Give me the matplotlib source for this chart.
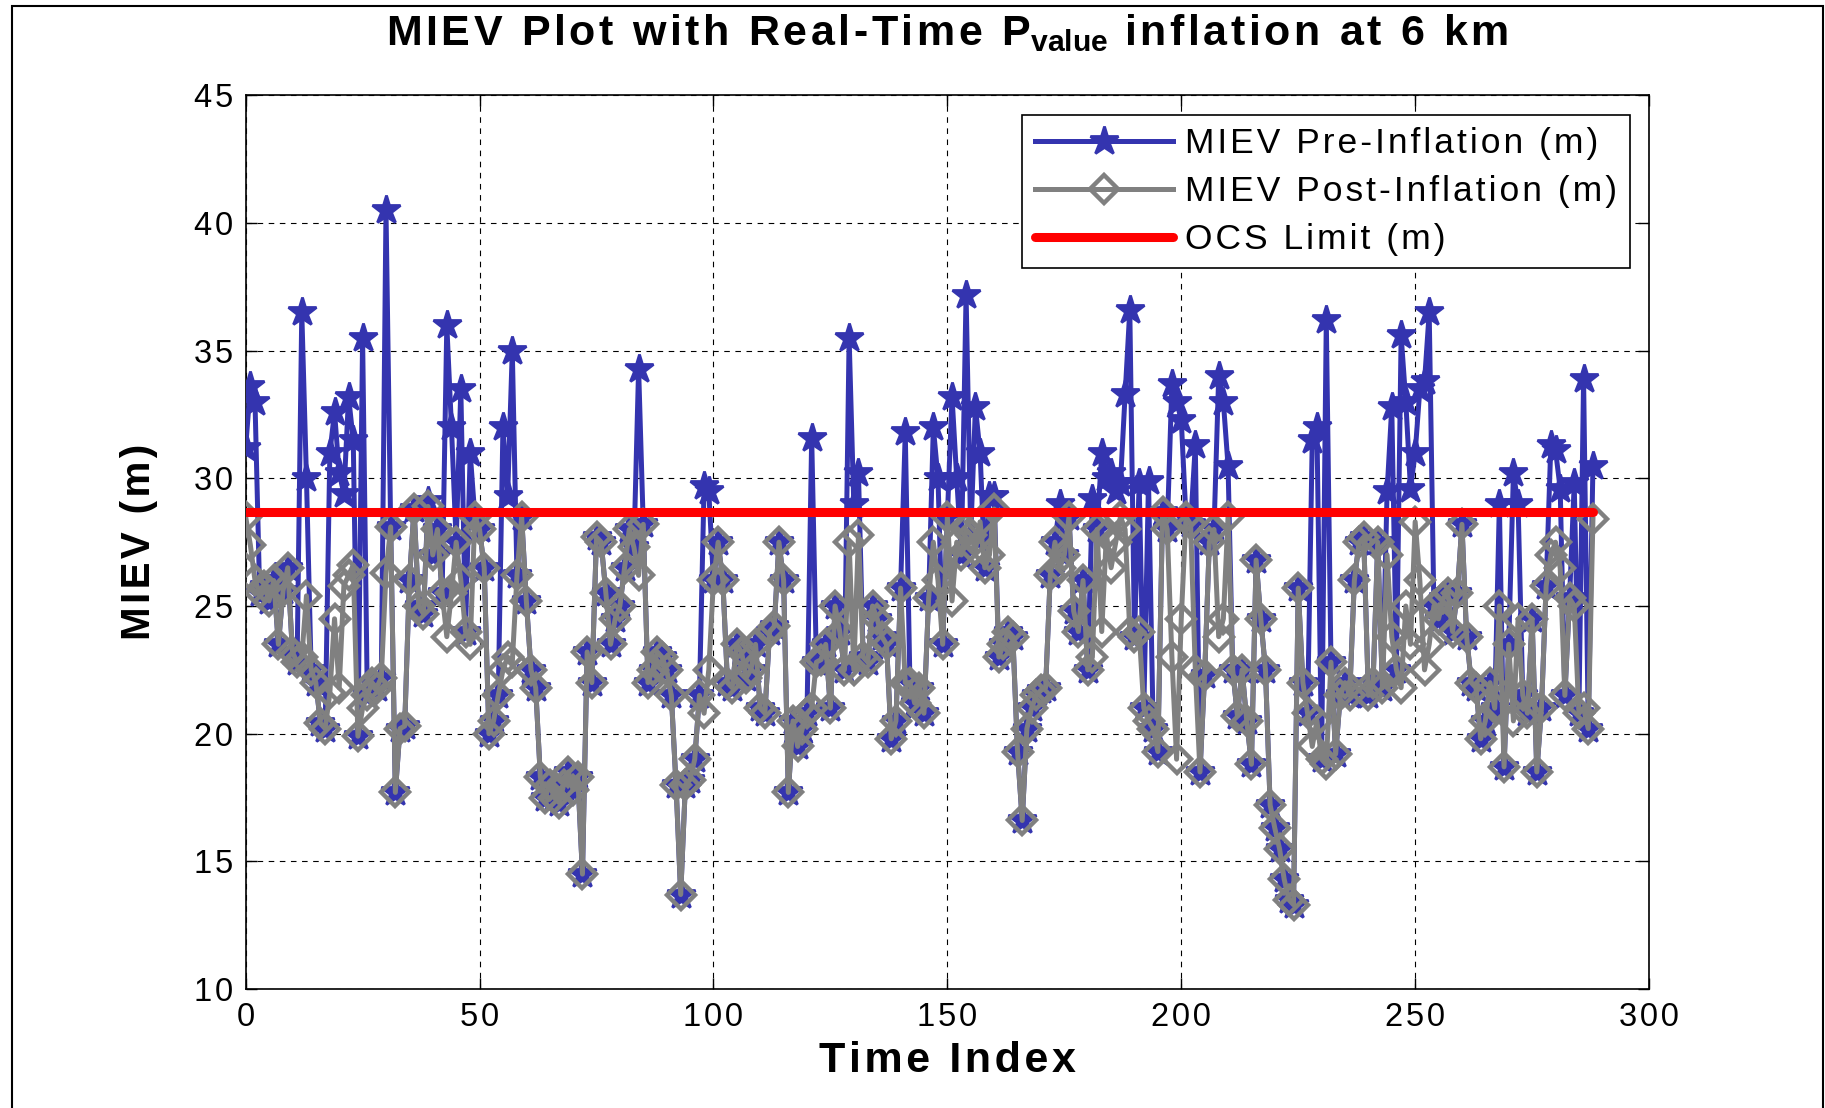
import numpy as np
import matplotlib
matplotlib.use("Agg")
import matplotlib.pyplot as plt
from matplotlib.patches import Rectangle

plt.rcParams['font.family'] = ['Liberation Sans', 'DejaVu Sans']
plt.rcParams['mathtext.fontset'] = 'custom'
plt.rcParams['mathtext.rm'] = 'Liberation Sans'
plt.rcParams['mathtext.bf'] = 'Liberation Sans:bold'

# ---- data ----
post_inflation = [
    28.5, 27.4, 26.0, 25.5, 25.8, 25.2, 26.0, 23.5, 25.6, 26.5,
    23.2, 22.8, 23.0, 25.4, 22.5, 22.0, 20.4, 20.2, 21.6, 24.5,
    21.8, 25.8, 26.2, 26.6, 19.9, 21.0, 21.5, 22.0, 21.8, 22.2,
    26.3, 28.1, 17.7, 20.2, 20.3, 26.0, 28.8, 25.0, 24.7, 28.9,
    27.0, 28.0, 25.5, 23.8, 25.5, 27.5, 26.0, 24.0, 23.5, 28.5,
    28.0, 26.5, 20.0, 20.5, 21.5, 22.5, 23.0, 22.8, 26.2, 28.5,
    25.2, 22.5, 21.8, 18.3, 17.5, 18.0, 17.5, 17.3, 18.0, 18.5,
    17.8, 18.3, 14.5, 23.2, 22.0, 27.7, 27.5, 25.5, 23.5, 24.5,
    25.0, 26.5, 28.0, 27.3, 26.2, 28.2, 22.0, 22.5, 23.2, 23.0,
    22.5, 21.5, 18.0, 13.7, 18.0, 18.2, 19.0, 21.5, 20.8, 22.5,
    26.0, 27.5, 26.0, 22.0, 21.8, 23.5, 23.2, 22.2, 22.5, 23.5,
    21.0, 20.8, 24.0, 24.2, 27.5, 26.0, 17.7, 20.5, 19.5, 20.2,
    20.8, 21.0, 22.8, 22.9, 23.5, 21.0, 25.0, 24.0, 22.5, 27.5,
    22.5, 27.8, 23.0, 22.8, 25.0, 24.5, 23.8, 23.5, 19.8, 20.5,
    25.7, 22.0, 22.0, 21.2, 21.8, 20.8, 25.3, 27.5, 26.0, 23.5,
    28.5, 25.2, 27.5, 27.0, 28.0, 27.8, 27.2, 28.3, 26.5, 27.0,
    28.8, 23.0, 23.5, 24.0, 23.8, 19.3, 16.6, 20.2, 21.0, 21.5,
    21.7, 21.8, 26.2, 27.5, 26.5, 27.0, 28.5, 24.8, 24.0, 26.0,
    22.5, 23.0, 28.0, 24.0, 27.8, 26.5, 27.5, 28.5, 28.0, 24.0,
    23.8, 24.0, 21.0, 20.5, 20.2, 19.3, 28.7, 28.0, 23.0, 19.0,
    24.5, 28.5, 28.2, 22.5, 18.5, 22.3, 27.5, 28.0, 23.8, 24.5,
    28.5, 22.5, 20.7, 22.5, 20.5, 18.8, 26.8, 24.5, 22.5, 17.2,
    16.3, 15.5, 14.3, 13.5, 13.3, 25.7, 22.0, 20.8, 19.5, 20.5,
    19.0, 18.8, 22.8, 19.2, 21.5, 22.0, 21.5, 26.0, 27.5, 27.7,
    21.5, 22.0, 27.5, 21.8, 27.0, 23.8, 22.5, 21.8, 25.0, 23.5,
    28.3, 26.0, 22.5, 23.5, 25.0, 24.5, 25.3, 25.5, 24.0, 25.5,
    28.2, 23.8, 22.0, 21.8, 19.8, 20.5, 22.0, 21.0, 25.0, 18.7,
    23.5, 20.5, 24.5, 21.5, 20.8, 24.5, 18.5, 21.0, 25.8, 27.0,
    27.5, 26.5, 21.5, 25.3, 25.0, 20.8, 21.0, 20.2, 28.4,
]

# pre-inflation values differ from post-inflation only where MIEV exceeded the limit
pre_spike_index = [0, 1, 2, 12, 13, 18, 19, 20, 21, 22, 23, 25, 30, 39, 43, 44, 46, 48,
                   55, 56, 57, 84, 98, 99, 121, 129, 130, 131, 141, 147, 148, 151, 152,
                   154, 156, 157, 159, 160, 174, 181, 183, 184, 185, 186, 187, 188, 189,
                   191, 193, 198, 199, 200, 203, 208, 209, 210, 228, 229, 231, 244, 245,
                   247, 248, 249, 250, 251, 252, 253, 268, 271, 272, 279, 280, 281, 284,
                   286, 288]
pre_spike_value = [31.2, 33.6, 33.0, 36.5, 30.0, 31.0, 32.6, 30.2, 29.4, 33.2, 31.5, 35.5,
                   40.5, 29.1, 36.0, 32.0, 33.5, 31.0, 32.0, 29.3, 35.0, 34.3, 29.7, 29.5,
                   31.6, 35.5, 29.0, 30.2, 31.8, 32.0, 30.0, 33.2, 30.0, 37.2, 32.8, 31.0,
                   29.3, 29.3, 29.0, 29.2, 31.0, 30.0, 30.2, 29.5, 29.8, 33.3, 36.6, 29.8,
                   29.9, 33.7, 33.0, 32.3, 31.3, 34.0, 33.0, 30.5, 31.5, 32.0, 36.2, 29.5,
                   32.8, 35.6, 33.0, 29.6, 31.0, 33.5, 33.8, 36.5, 29.0, 30.2, 29.0, 31.3,
                   31.1, 29.6, 29.8, 33.9, 30.5]
ocs_limit = 28.7

x_ticks = [0, 50, 100, 150, 200, 250, 300]
y_ticks = [10, 15, 20, 25, 30, 35, 40, 45]
series_labels = ['MIEV Pre-Inflation (m)', 'MIEV Post-Inflation (m)', 'OCS Limit (m)']

post = np.array(post_inflation)
pre = post.copy()
pre[np.array(pre_spike_index)] = pre_spike_value
t = np.arange(len(post))

HS = '\u200a'  # hair space for the wide letter tracking of the original


def sp(s):
    return HS.join(s)


# ---- figure ----
fig = plt.figure(figsize=(18.25, 11.08), dpi=100)
ax = fig.add_axes([0.1346, 0.1074, 0.7690, 0.8065])

blue = '#3434AF'
gray = '#808080'

ax.plot(t, pre, color=blue, lw=3.6, marker='*', ms=21, mfc=blue, mec=blue, mew=2.0,
        label=sp(series_labels[0]), zorder=3)
ax.plot(t, post, color=gray, lw=3.6, marker='D', ms=14.5, mfc='none', mec=gray, mew=3.2,
        label=sp(series_labels[1]), zorder=4)
ax.plot([t[0], t[-1]], [ocs_limit, ocs_limit], color='#FF0000', lw=6.5,
        solid_capstyle='round', label=sp(series_labels[2]), zorder=5)

ax.set_xlim(0, 300)
ax.set_ylim(10, 45)
ax.set_xticks(x_ticks)
ax.set_xticklabels([sp(str(v)) for v in x_ticks])
ax.set_yticks(y_ticks)
ax.set_yticklabels([sp(str(v)) for v in y_ticks])
ax.tick_params(direction='in', length=8, width=1, top=True, right=True,
               labelsize=23.5, pad=9)
ax.grid(True, color='black', linestyle=(0, (5, 5)), linewidth=0.8)
for s in ax.spines.values():
    s.set_linewidth(1.2)
    s.set_color('black')

ax.set_xlabel(sp('Time Index'), fontsize=31, fontweight='bold', labelpad=6)
ax.set_ylabel(sp('MIEV (m)'), fontsize=29, fontweight='bold', labelpad=26)
ax.set_title(sp('MIEV Plot with Real-Time P') + r'$_{\mathbf{value}}$' + sp(' inflation at 6 km'),
             fontsize=31, fontweight='bold', pad=36)

leg = ax.legend(loc='upper right', fontsize=25.5, handlelength=3.9, handletextpad=0.35,
                borderaxespad=0.55, labelspacing=0.42, fancybox=False, framealpha=1,
                edgecolor='black', borderpad=0.35)
leg.get_frame().set_linewidth(1.2)

# outer figure border
fig.patches.append(Rectangle((0.0064, -0.01), 0.9923, 1.0047, transform=fig.transFigure,
                             fill=False, edgecolor='black', lw=1.5))

fig.savefig('out.png', dpi=100)
